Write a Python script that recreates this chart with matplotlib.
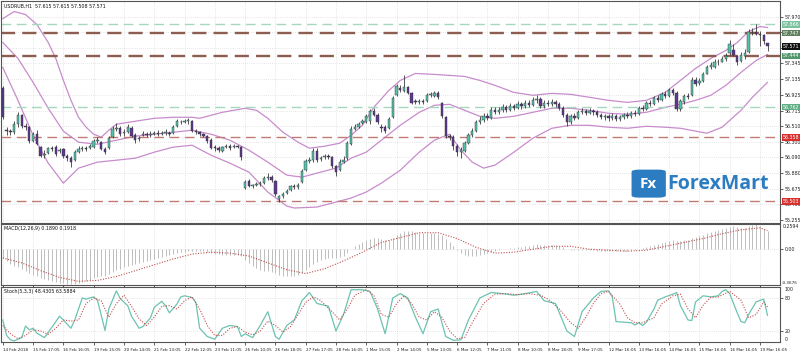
import matplotlib
matplotlib.use('Agg')
import matplotlib.pyplot as plt
import matplotlib.transforms as mtransforms
from matplotlib.patches import FancyBboxPatch
import numpy as np

# ---- candles (USDRUB H1) ----
opens = [57.01, 56.45, 56.44, 56.43, 56.53, 56.65, 56.51, 56.49, 56.31, 56.40,
         56.23, 56.12, 56.15, 56.21, 56.23, 56.17, 56.20, 56.11, 56.08, 56.05,
         56.16, 56.20, 56.21, 56.21, 56.23, 56.31, 56.29, 56.20, 56.21, 56.36,
         56.47, 56.48, 56.41, 56.43, 56.48, 56.39, 56.33, 56.39, 56.40, 56.39,
         56.40, 56.41, 56.40, 56.41, 56.41, 56.41, 56.51, 56.56, 56.56, 56.57,
         56.57, 56.44, 56.43, 56.40, 56.37, 56.32, 56.23, 56.21, 56.17, 56.23,
         56.24, 56.23, 56.24, 56.23, 55.68, 55.77, 55.71, 55.72, 55.73, 55.75,
         55.81, 55.83, 55.77, 55.53, 55.57, 55.61, 55.65, 55.71, 55.69, 55.76,
         55.92, 56.04, 56.05, 56.17, 56.07, 56.09, 56.11, 56.09, 55.97, 55.92,
         56.03, 56.08, 56.27, 56.47, 56.49, 56.55, 56.56, 56.57, 56.71, 56.65,
         56.49, 56.49, 56.48, 56.63, 56.92, 57.01, 56.97, 57.03, 56.95, 56.84,
         56.83, 56.84, 56.84, 56.92, 56.91, 56.95, 56.81, 56.63, 56.37, 56.36,
         56.24, 56.16, 56.17, 56.28, 56.39, 56.44, 56.56, 56.59, 56.64, 56.61,
         56.72, 56.69, 56.72, 56.76, 56.72, 56.77, 56.75, 56.80, 56.77, 56.81,
         56.79, 56.85, 56.87, 56.77, 56.81, 56.80, 56.83, 56.80, 56.75, 56.65,
         56.56, 56.64, 56.61, 56.69, 56.71, 56.68, 56.71, 56.69, 56.65, 56.63,
         56.64, 56.61, 56.64, 56.60, 56.63, 56.65, 56.64, 56.68, 56.67, 56.75,
         56.73, 56.81, 56.80, 56.88, 56.85, 56.93, 56.91, 56.99, 56.95, 56.73,
         56.83, 56.91, 56.92, 57.13, 57.08, 57.11, 57.21, 57.30, 57.30, 57.37,
         57.37, 57.41, 57.48, 57.53, 57.45, 57.38, 57.45, 57.50, 57.76, 57.77,
         57.74, 57.72, 57.615]
highs = [57.04, 56.49, 56.47, 56.57, 56.69, 56.67, 56.55, 56.51, 56.43, 56.45,
         56.24, 56.19, 56.23, 56.24, 56.25, 56.21, 56.21, 56.13, 56.11, 56.19,
         56.24, 56.24, 56.24, 56.27, 56.33, 56.36, 56.31, 56.23, 56.37, 56.51,
         56.55, 56.51, 56.47, 56.53, 56.51, 56.41, 56.37, 56.44, 56.43, 56.44,
         56.44, 56.45, 56.44, 56.47, 56.44, 56.52, 56.60, 56.59, 56.60, 56.61,
         56.59, 56.47, 56.44, 56.41, 56.39, 56.35, 56.25, 56.24, 56.24, 56.27,
         56.27, 56.27, 56.25, 56.24, 55.79, 55.80, 55.73, 55.76, 55.77, 55.84,
         55.88, 55.85, 55.79, 55.59, 55.63, 55.67, 55.72, 55.73, 55.75, 55.93,
         56.07, 56.09, 56.21, 56.21, 56.11, 56.13, 56.13, 56.11, 55.99, 56.07,
         56.11, 56.31, 56.51, 56.53, 56.56, 56.60, 56.67, 56.73, 56.75, 56.68,
         56.53, 56.52, 56.63, 56.91, 57.07, 57.05, 57.19, 57.04, 56.96, 56.87,
         56.87, 56.87, 56.95, 56.96, 56.97, 56.97, 56.83, 56.64, 56.40, 56.39,
         56.27, 56.23, 56.31, 56.41, 56.48, 56.59, 56.64, 56.68, 56.68, 56.76,
         56.76, 56.76, 56.80, 56.79, 56.81, 56.80, 56.84, 56.83, 56.85, 56.85,
         56.89, 56.92, 56.89, 56.85, 56.85, 56.87, 56.85, 56.83, 56.77, 56.68,
         56.67, 56.68, 56.72, 56.75, 56.73, 56.75, 56.73, 56.72, 56.68, 56.67,
         56.67, 56.68, 56.67, 56.65, 56.68, 56.69, 56.71, 56.72, 56.77, 56.79,
         56.84, 56.85, 56.91, 56.92, 56.96, 56.97, 57.01, 57.01, 56.97, 56.87,
         56.93, 56.95, 57.17, 57.16, 57.15, 57.23, 57.33, 57.36, 57.40, 57.41,
         57.44, 57.48, 57.66, 57.60, 57.46, 57.50, 57.54, 57.80, 57.82, 57.865,
         57.78, 57.74, 57.615]
lows = [56.60, 56.39, 56.39, 56.40, 56.49, 56.48, 56.45, 56.28, 56.29, 56.25,
        56.09, 56.08, 56.13, 56.17, 56.11, 56.15, 56.08, 56.04, 55.96, 56.04,
        56.15, 56.17, 56.17, 56.20, 56.21, 56.28, 56.19, 56.13, 56.20, 56.35,
        56.44, 56.37, 56.37, 56.41, 56.36, 56.28, 56.31, 56.37, 56.36, 56.36,
        56.39, 56.37, 56.39, 56.39, 56.37, 56.40, 56.49, 56.53, 56.55, 56.53,
        56.43, 56.40, 56.37, 56.36, 56.28, 56.20, 56.17, 56.16, 56.16, 56.21,
        56.19, 56.21, 56.21, 56.05, 55.67, 55.69, 55.68, 55.71, 55.71, 55.73,
        55.79, 55.76, 55.57, 55.50, 55.55, 55.60, 55.64, 55.67, 55.67, 55.75,
        55.91, 56.01, 56.03, 56.03, 56.04, 56.07, 56.07, 55.95, 55.84, 55.91,
        56.01, 56.05, 56.25, 56.45, 56.48, 56.53, 56.55, 56.53, 56.64, 56.53,
        56.43, 56.41, 56.47, 56.61, 56.91, 56.96, 56.96, 56.93, 56.80, 56.80,
        56.80, 56.80, 56.83, 56.89, 56.89, 56.87, 56.61, 56.35, 56.32, 56.19,
        56.11, 56.08, 56.16, 56.27, 56.36, 56.43, 56.53, 56.56, 56.59, 56.60,
        56.67, 56.67, 56.69, 56.69, 56.71, 56.72, 56.73, 56.73, 56.75, 56.76,
        56.77, 56.81, 56.75, 56.75, 56.77, 56.77, 56.76, 56.72, 56.63, 56.51,
        56.53, 56.59, 56.60, 56.67, 56.65, 56.67, 56.65, 56.63, 56.60, 56.59,
        56.57, 56.59, 56.57, 56.57, 56.60, 56.61, 56.61, 56.64, 56.65, 56.71,
        56.72, 56.77, 56.79, 56.83, 56.84, 56.88, 56.89, 56.92, 56.71, 56.71,
        56.80, 56.87, 56.91, 57.04, 57.05, 57.09, 57.20, 57.27, 57.29, 57.33,
        57.36, 57.38, 57.46, 57.44, 57.33, 57.37, 57.41, 57.48, 57.73, 57.72,
        57.58, 57.61, 57.508]
closes = [56.63, 56.44, 56.43, 56.53, 56.65, 56.51, 56.49, 56.31, 56.40, 56.27,
          56.11, 56.13, 56.21, 56.20, 56.13, 56.19, 56.11, 56.08, 56.03, 56.16,
          56.20, 56.21, 56.20, 56.24, 56.31, 56.32, 56.20, 56.16, 56.35, 56.47,
          56.48, 56.40, 56.43, 56.49, 56.37, 56.32, 56.35, 56.40, 56.39, 56.40,
          56.41, 56.40, 56.41, 56.43, 56.40, 56.49, 56.57, 56.56, 56.57, 56.59,
          56.44, 56.43, 56.40, 56.37, 56.31, 56.21, 56.21, 56.19, 56.23, 56.24,
          56.21, 56.24, 56.23, 56.09, 55.76, 55.71, 55.71, 55.73, 55.75, 55.81,
          55.83, 55.79, 55.60, 55.57, 55.60, 55.64, 55.71, 55.69, 55.72, 55.91,
          56.04, 56.05, 56.17, 56.05, 56.08, 56.11, 56.09, 55.97, 55.89, 56.03,
          56.05, 56.28, 56.47, 56.49, 56.53, 56.57, 56.64, 56.71, 56.65, 56.56,
          56.48, 56.44, 56.60, 56.88, 57.04, 56.99, 57.03, 56.95, 56.81, 56.83,
          56.84, 56.83, 56.92, 56.93, 56.95, 56.89, 56.64, 56.37, 56.36, 56.24,
          56.16, 56.19, 56.28, 56.39, 56.44, 56.56, 56.59, 56.64, 56.61, 56.72,
          56.69, 56.72, 56.76, 56.72, 56.77, 56.75, 56.80, 56.77, 56.81, 56.79,
          56.85, 56.87, 56.77, 56.81, 56.80, 56.83, 56.80, 56.75, 56.65, 56.56,
          56.64, 56.61, 56.69, 56.71, 56.68, 56.71, 56.69, 56.65, 56.63, 56.64,
          56.61, 56.64, 56.60, 56.63, 56.65, 56.64, 56.68, 56.67, 56.75, 56.73,
          56.81, 56.80, 56.88, 56.85, 56.93, 56.91, 56.99, 56.95, 56.73, 56.84,
          56.91, 56.89, 57.13, 57.07, 57.11, 57.20, 57.30, 57.32, 57.37, 57.36,
          57.41, 57.44, 57.60, 57.46, 57.36, 57.46, 57.49, 57.76, 57.77, 57.74,
          57.72, 57.64, 57.571]

# ---- Bollinger bands (bar, price) ----
bb_up_bars = [0, 3, 6, 9, 12, 14, 16, 18, 20, 22, 24, 26, 28, 30, 35, 40, 45, 50, 52, 58, 64, 67, 70, 74, 78,
              81, 85, 89, 92, 95, 98, 102, 105, 109, 114, 118, 122, 126, 130, 135, 140, 145, 150, 155, 160,
              165, 170, 175, 179, 183, 187, 191, 194, 197, 200, 202]
bb_up = [57.943, 58.037, 57.997, 57.864, 57.624, 57.411, 57.118, 56.852, 56.626, 56.493, 56.400, 56.360,
         56.453, 56.533, 56.573, 56.612, 56.626, 56.626, 56.612, 56.692, 56.746, 56.719, 56.612, 56.426,
         56.293, 56.213, 56.240, 56.280, 56.386, 56.519, 56.759, 56.985, 57.118, 57.211, 57.198, 57.185,
         57.171, 57.118, 57.052, 56.958, 56.919, 56.945, 56.932, 56.892, 56.852, 56.825, 56.852, 56.958,
         57.118, 57.278, 57.411, 57.518, 57.624, 57.770, 57.837, 57.824]
bb_mid_bars = [0, 4, 8, 12, 16, 20, 25, 30, 35, 40, 45, 50, 55, 60, 65, 70, 75, 79, 84, 88, 92, 96, 100,
               105, 110, 114, 118, 122, 126, 130, 135, 140, 145, 150, 155, 160, 165, 170, 175, 179, 183,
               187, 191, 195, 199, 202]
bb_mid = [57.624, 57.411, 57.092, 56.746, 56.440, 56.293, 56.266, 56.320, 56.373, 56.400, 56.426, 56.453,
          56.400, 56.320, 56.187, 56.027, 55.854, 55.827, 55.894, 55.947, 56.080, 56.160, 56.320, 56.519,
          56.692, 56.786, 56.799, 56.719, 56.639, 56.612, 56.639, 56.692, 56.746, 56.746, 56.719, 56.679,
          56.666, 56.692, 56.759, 56.799, 56.852, 56.919, 57.052, 57.225, 57.384, 57.464]
bb_low_bars = [0, 4, 8, 12, 16, 20, 25, 30, 35, 40, 45, 50, 55, 60, 65, 70, 75, 77, 83, 87, 92, 96, 100,
               105, 110, 114, 118, 121, 124, 127, 130, 135, 140, 145, 150, 155, 160, 165, 170, 175, 179,
               186, 190, 195, 198, 202]
bb_low = [57.291, 56.852, 56.386, 56.013, 55.747, 55.947, 56.027, 56.053, 56.080, 56.160, 56.227, 56.253,
          56.120, 56.013, 55.894, 55.628, 55.441, 55.415, 55.428, 55.481, 55.548, 55.628, 55.747, 55.920,
          56.160, 56.320, 56.400, 56.187, 56.027, 55.947, 55.987, 56.160, 56.346, 56.479, 56.519, 56.519,
          56.493, 56.479, 56.506, 56.493, 56.479, 56.413, 56.493, 56.719, 56.892, 57.092]

# ---- horizontal levels ----
level_prices = [57.866, 57.747, 57.444, 56.762, 56.358, 55.503]
level_texts = ['57.866', '57.747', '57.444', '56.762', '56.358', '55.503']
last_price = 57.571

price_ticks = [57.970, 57.760, 57.555, 57.345, 57.135, 56.925, 56.715, 56.510, 56.300, 56.090,
               55.880, 55.675, 55.465, 55.255]
price_tick_text = ['57.970', '', '', '57.345', '57.135', '56.925', '56.715', '56.510', '56.300',
                   '56.090', '55.880', '55.675', '55.465', '55.255']

# ---- MACD(12,26,9) main, one per bar ----
macd = [-0.09, -0.12, -0.15, -0.17, -0.18, -0.20, -0.22, -0.24, -0.26, -0.28,
        -0.30, -0.31, -0.32, -0.33, -0.34, -0.35, -0.35, -0.36, -0.36, -0.36,
        -0.35, -0.34, -0.33, -0.32, -0.30, -0.29, -0.28, -0.27, -0.25, -0.23,
        -0.21, -0.20, -0.18, -0.17, -0.16, -0.15, -0.14, -0.13, -0.12, -0.11,
        -0.10, -0.09, -0.08, -0.07, -0.06, -0.05, -0.04, -0.03, -0.03, -0.02,
        -0.02, -0.02, -0.02, -0.02, -0.03, -0.04, -0.05, -0.05, -0.06, -0.06,
        -0.06, -0.06, -0.06, -0.07, -0.11, -0.14, -0.17, -0.19, -0.21, -0.22,
        -0.22, -0.23, -0.24, -0.26, -0.27, -0.27, -0.27, -0.27, -0.26, -0.24,
        -0.21, -0.18, -0.15, -0.13, -0.11, -0.10, -0.09, -0.09, -0.09, -0.08,
        -0.07, -0.04, 0.00, 0.03, 0.05, 0.07, 0.09, 0.11, 0.12, 0.12,
        0.11, 0.10, 0.10, 0.12, 0.15, 0.17, 0.19, 0.19, 0.19, 0.18,
        0.17, 0.17, 0.17, 0.17, 0.17, 0.16, 0.15, 0.11, 0.07, 0.03,
        -0.01, -0.04, -0.06, -0.07, -0.07, -0.07, -0.06, -0.05, -0.04, -0.03,
        -0.02, -0.01, 0.00, 0.00, 0.01, 0.01, 0.02, 0.02, 0.03, 0.03,
        0.04, 0.05, 0.04, 0.04, 0.04, 0.04, 0.04, 0.03, 0.02, 0.00,
        -0.01, -0.01, -0.01, -0.01, -0.01, -0.01, -0.01, -0.02, -0.02, -0.02,
        -0.02, -0.02, -0.02, -0.02, -0.02, -0.02, -0.01, -0.01, 0.00, 0.01,
        0.02, 0.03, 0.04, 0.05, 0.06, 0.07, 0.08, 0.09, 0.08, 0.08,
        0.09, 0.10, 0.12, 0.13, 0.14, 0.15, 0.17, 0.18, 0.19, 0.20,
        0.21, 0.22, 0.23, 0.24, 0.23, 0.22, 0.22, 0.24, 0.25, 0.2594,
        0.24, 0.21, 0.189]
sig_bars = [0, 5, 10, 15, 20, 25, 30, 35, 40, 45, 50, 55, 60, 65, 70, 75, 80, 85, 90, 95, 100, 105, 110,
            115, 120, 125, 130, 135, 140, 145, 150, 155, 160, 165, 170, 175, 180, 185, 190, 195, 200, 202]
sig_vals = [-0.09, -0.14, -0.22, -0.29, -0.33, -0.32, -0.28, -0.22, -0.16, -0.10, -0.05, -0.03, -0.04,
            -0.07, -0.14, -0.21, -0.25, -0.20, -0.12, -0.03, 0.07, 0.12, 0.17, 0.17, 0.11, 0.02, -0.04,
            -0.03, 0.00, 0.03, 0.03, 0.00, -0.01, -0.02, -0.01, 0.03, 0.07, 0.11, 0.16, 0.20, 0.22, 0.1918]

# ---- Stochastic(5,3,3) ----
k_bars = [0, 1, 2, 3, 5, 6, 7, 8, 9, 10, 11, 13, 15, 16, 18, 19, 21, 22, 24, 25, 27, 28, 30, 31, 33, 34,
          36, 37, 39, 40, 42, 43, 44, 46, 47, 48, 50, 51, 52, 54, 56, 58, 60, 62, 63, 64, 66, 68, 70, 72,
          73, 75, 77, 79, 81, 83, 86, 88, 90, 92, 95, 97, 99, 101, 103, 105, 107, 109, 111, 113, 115,
          117, 119, 121, 123, 126, 129, 132, 135, 138, 141, 143, 146, 149, 151, 153, 156, 158, 160, 161,
          162, 166, 167, 168, 169, 170, 172, 173, 175, 177, 178, 179, 181, 182, 183, 185, 187, 189, 190,
          191, 192, 194, 195, 196, 197, 199, 201, 202]
k_vals = [40, 12, 4, 2, 8, 29, 22, 25, 16, 12, 8, 27, 47, 40, 25, 40, 80, 78, 82, 76, 21, 60, 93, 79, 66,
          47, 25, 28, 44, 63, 74, 66, 53, 69, 82, 84, 81, 72, 25, 10, 5, 25, 30, 28, 10, 15, 8, 30, 55,
          10, 5, 30, 40, 75, 90, 70, 65, 20, 50, 95, 95, 92, 60, 15, 80, 88, 80, 45, 15, 55, 60, 10, 3,
          4, 40, 80, 90, 88, 85, 88, 92, 75, 70, 20, 10, 55, 80, 92, 93, 82, 37, 35, 31, 35, 30, 36, 60,
          76, 82, 87, 90, 66, 40, 39, 73, 84, 82, 84, 92, 95, 88, 53, 37, 35, 50, 73, 78, 48.43]
d_bars = [0, 2, 4, 6, 8, 10, 12, 14, 16, 18, 20, 22, 24, 26, 28, 30, 32, 34, 36, 38, 40, 42, 44, 46, 48,
          50, 52, 54, 56, 58, 60, 62, 64, 66, 68, 70, 72, 74, 76, 78, 80, 82, 84, 87, 89, 91, 93, 96, 98,
          100, 102, 104, 106, 108, 110, 112, 114, 116, 118, 120, 122, 124, 127, 130, 133, 136, 139, 142,
          144, 147, 150, 152, 154, 156, 158, 160, 163, 165, 167, 169, 172, 174, 177, 179, 181, 183, 185,
          187, 189, 192, 195, 197, 199, 201, 202]
d_vals = [30, 15, 6, 12, 22, 20, 14, 25, 40, 38, 40, 70, 80, 75, 45, 70, 85, 65, 42, 30, 45, 65, 66, 60,
          75, 82, 60, 30, 12, 12, 25, 28, 18, 13, 20, 38, 30, 18, 28, 50, 72, 82, 75, 55, 40, 60, 85, 95,
          85, 50, 45, 70, 84, 70, 45, 40, 55, 45, 20, 6, 8, 35, 70, 87, 88, 86, 88, 85, 78, 60, 35, 25,
          45, 70, 88, 92, 69, 44, 35, 35, 44, 69, 84, 87, 60, 44, 67, 81, 82, 92, 76, 44, 50, 73, 63.59]

# ---- time axis ----
x_labels = ['14 Feb 2018', '15 Feb 17:05', '16 Feb 16:05', '19 Feb 15:05', '20 Feb 14:05',
            '21 Feb 13:05', '22 Feb 12:05', '23 Feb 11:05', '26 Feb 10:05', '26 Feb 18:05',
            '27 Feb 17:05', '28 Feb 16:05', '1 Mar 15:05', '2 Mar 14:05', '5 Mar 13:05',
            '6 Mar 12:05', '7 Mar 11:05', '8 Mar 10:05', '8 Mar 18:05', '9 Mar 17:05',
            '12 Mar 16:05', '13 Mar 16:05', '14 Mar 16:05', '15 Mar 16:05', '16 Mar 16:05',
            '19 Mar 16:05']
label_step = 8

FS = 3.4
FSX = 3.0
grid_kw = dict(color='#cfcfcf', linestyle=(0, (1, 2)), linewidth=0.5)

fig = plt.figure(figsize=(8, 3.53), dpi=100)
ax = fig.add_axes([0.001, 0.3683, 0.974, 0.6300])
ax_m = fig.add_axes([0.001, 0.1926, 0.974, 0.1728])
ax_s = fig.add_axes([0.001, 0.0312, 0.974, 0.1558])

o = np.array(opens)
h = np.array(highs)
l = np.array(lows)
c = np.array(closes)
idx = np.arange(len(c))
xticks = idx[::label_step]

for a in (ax, ax_m, ax_s):
    a.set_xlim(-0.53, 205.3)
    a.set_xticks(xticks)
    a.grid(True, **grid_kw)
    a.set_axisbelow(True)
    a.yaxis.tick_right()
    a.tick_params(axis='y', labelsize=FS, length=2, width=0.5, pad=1.2, colors='#222222')
    a.tick_params(axis='x', length=2, width=0.5, labelbottom=False)
    for s in a.spines.values():
        s.set_color('#555555')
        s.set_linewidth(0.8)

# candles
bull = c >= o
body_lo = np.minimum(o, c)
body_h = np.maximum(np.abs(c - o), 0.006)
cols = np.where(bull, '#55c2ab', '#5d3991')
ax.vlines(idx, l, h, color='#3a3a3a', linewidth=0.6, zorder=3)
ax.bar(idx, body_h, bottom=body_lo, width=0.62, color=cols, edgecolor='#2f2f2f',
       linewidth=0.3, zorder=4)

# bollinger bands
bb_col = '#c88ccc'
ax.plot(bb_up_bars, bb_up, color=bb_col, lw=0.9, zorder=2)
ax.plot(bb_mid_bars, bb_mid, color=bb_col, lw=0.9, zorder=2)
ax.plot(bb_low_bars, bb_low, color=bb_col, lw=0.9, zorder=2)

# levels
level_styles = [('#a7d8bf', 1.0, (0, (7, 4))), ('#8c5e52', 1.7, (0, (6, 3))),
                ('#8c5e52', 1.7, (0, (6, 3))), ('#a7d8bf', 1.0, (0, (7, 4))),
                ('#bf7b74', 1.0, (0, (7, 4))), ('#bf7b74', 1.0, (0, (7, 4)))]
label_bg = ['#7cc49f', '#5f7e5c', '#52966b', '#5fae84', '#d8312d', '#d8312d']
for p, (col, lw, ls) in zip(level_prices, level_styles):
    ax.axhline(p, color=col, lw=lw, linestyle=ls, zorder=2.5)

ax.set_ylim(55.215, 58.183)
ax.set_yticks(price_ticks)
ax.set_yticklabels(price_tick_text)

trans = mtransforms.blended_transform_factory(ax.transAxes, ax.transData)
for p, txt, bg in zip(level_prices, level_texts, label_bg):
    ax.text(1.004, p, txt, transform=trans, fontsize=FS, color='white', va='center', ha='left',
            clip_on=False, zorder=10,
            bbox=dict(boxstyle='square,pad=0.15', fc=bg, ec='none'))
ax.text(1.004, last_price, f'{last_price:.3f}', transform=trans, fontsize=FS, color='white',
        va='center', ha='left', clip_on=False, zorder=10,
        bbox=dict(boxstyle='square,pad=0.15', fc='#111111', ec='none'))

ax.text(0.004, 0.985, 'USDRUB,H1  57.615 57.615 57.508 57.571', transform=ax.transAxes,
        fontsize=FS, va='top', ha='left', color='#111111')

# watermark
logo = FancyBboxPatch((0.8135, 0.118), 0.036, 0.118, boxstyle='round,pad=0.004,rounding_size=0.01',
                      transform=ax.transAxes, fc='#2b7cc0', ec='none', zorder=6)
ax.add_patch(logo)
ax.text(0.8315, 0.177, 'Fx', transform=ax.transAxes, fontsize=11, color='white',
        fontweight='bold', ha='center', va='center', family='Open Sans', zorder=7)
ax.text(0.855, 0.177, 'ForexMart', transform=ax.transAxes, fontsize=14, color='#2b7cc0',
        fontweight='bold', ha='left', va='center', family='Open Sans', zorder=7)

# MACD
ax_m.vlines(idx, 0, macd, color='#bdbdbd', linewidth=0.7, zorder=2)
ax_m.plot(sig_bars, sig_vals, color='#c0504d', lw=0.8, linestyle=(0, (1, 1.4)), zorder=3)
ax_m.set_ylim(-0.3676, 0.2594)
ax_m.set_yticks([0.0])
ax_m.set_yticklabels(['0.00'])
tm = mtransforms.blended_transform_factory(ax_m.transAxes, ax_m.transData)
ax_m.text(1.004, 0.2594, '0.2594', transform=tm, fontsize=FS, va='top', ha='left', color='#222222')
ax_m.text(1.002, -0.3676, '-0.3676', transform=tm, fontsize=3.0, va='bottom', ha='left', color='#222222')
ax_m.text(0.004, 0.96, 'MACD(12,26,9) 0.1890 0.1918', transform=ax_m.transAxes, fontsize=FS,
          va='top', ha='left', color='#111111')

# Stochastic
ax_s.plot(k_bars, k_vals, color='#6cc3b1', lw=0.9, zorder=3)
ax_s.plot(d_bars, d_vals, color='#c0504d', lw=0.8, linestyle=(0, (1, 1.4)), zorder=3)
ax_s.set_ylim(0, 100)
ax_s.set_yticks([80, 20])
ax_s.set_yticklabels(['80', '20'])
ts = mtransforms.blended_transform_factory(ax_s.transAxes, ax_s.transData)
ax_s.text(1.006, 100, '100', transform=ts, fontsize=FS, va='top', ha='left', color='#222222')
ax_s.text(1.006, 0, '0', transform=ts, fontsize=FS, va='bottom', ha='left', color='#222222')
ax_s.text(0.004, 0.97, 'Stoch(5,3,3) 48.4305 63.5884', transform=ax_s.transAxes, fontsize=FS,
          va='top', ha='left', color='#111111')
ax_s.tick_params(axis='x', labelbottom=True, labelsize=FSX, pad=2, colors='#222222')
ax_s.set_xticklabels(x_labels, ha='left')

fig.savefig('out.png', dpi=100)
